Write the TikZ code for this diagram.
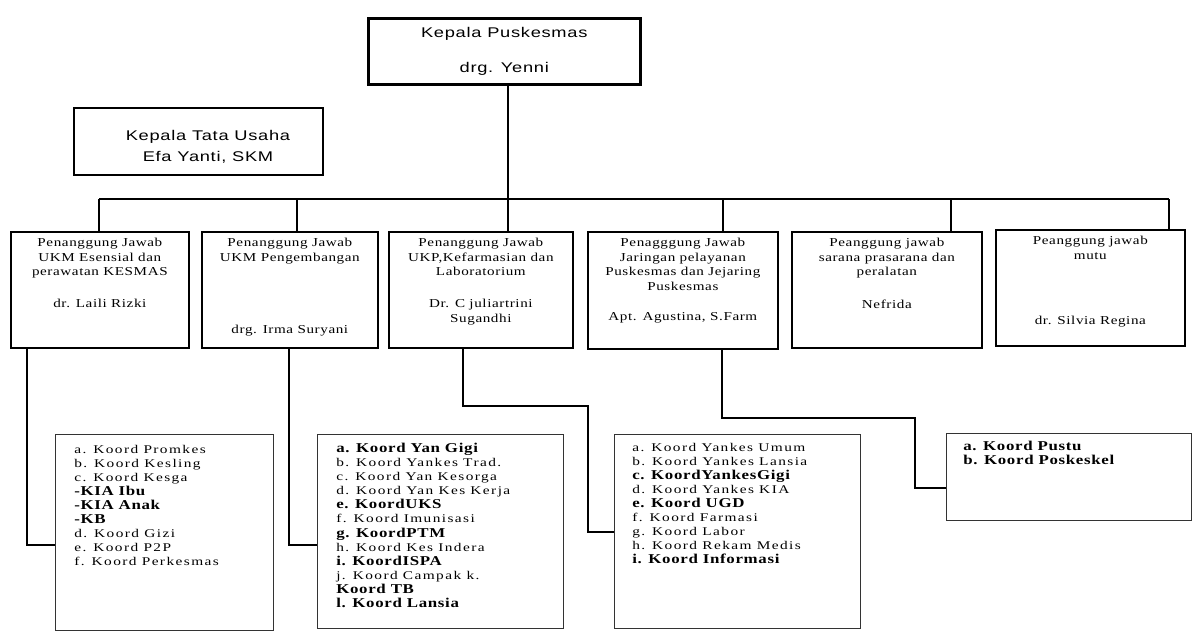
\documentclass[tikz,border=0pt]{standalone}
\usepackage{fontspec}
\setmainfont[FakeStretch=1.25,LetterSpace=5]{Liberation Serif}
\newfontfamily\sansf[FakeStretch=1.3,LetterSpace=5]{Liberation Sans}
\newfontfamily\listf[FakeStretch=1.3,LetterSpace=12]{Liberation Serif}
\newfontfamily\boldf[FakeStretch=1.25,LetterSpace=5]{Liberation Serif}
\usetikzlibrary{positioning}
\newdimen\px \px=0.025cm
\newcommand\kb[1]{{\boldf\fontsize{9.6}{10}\selectfont\bfseries #1}}
\tikzset{
  box/.style={draw, line width=1.2pt, anchor=north west, inner sep=0pt},
  headbox/.style={box, line width=1.8pt},
  listbox/.style={draw=black!80, line width=1pt, anchor=north west, inner sep=0pt},
  link/.style={draw, line width=1pt},
  head/.style={align=center, inner sep=0pt, font=\sansf\fontsize{10}{15}\selectfont},
  role/.style={anchor=north, align=center, inner sep=0pt, font=\fontsize{8.6}{10.3}\selectfont},
  items/.style={anchor=north west, align=left, inner sep=0pt, font=\listf\fontsize{8.4}{10}\selectfont},
}
\begin{document}
\begin{tikzpicture}[x=0.025cm, y=-0.025cm]
  \useasboundingbox (0,0) rectangle (1196,639);
  \fill[white] (0,0) rectangle (1196,639);

  % kepala puskesmas dan tata usaha
  \node[headbox, minimum width=272\px, minimum height=66\px, head] (kp) at (367,17)
    {Kepala Puskesmas\\[10pt]drg. Yenni};
  \node[box, minimum width=249\px, minimum height=67\px] (ktu) at (73,107) {};
  \node[head] (ktut) at (208,147) {Kepala Tata Usaha\\Efa Yanti, SKM};

  % penanggung jawab
  \node[box, minimum width=178\px, minimum height=116\px] (pj1) at (10,231) {};
  \node[box, minimum width=176\px, minimum height=116\px] (pj2) at (201,231) {};
  \node[box, minimum width=184\px, minimum height=116\px] (pj3) at (388,231) {};
  \node[box, minimum width=190\px, minimum height=117\px] (pj4) at (587,231) {};
  \node[box, minimum width=190\px, minimum height=116\px] (pj5) at (791,231) {};
  \node[box, minimum width=189\px, minimum height=116\px] (pj6) at (995,229) {};

  \node[role, below=7\px of pj1.north] (r1) {Penanggung Jawab\\UKM Esensial dan\\perawatan KESMAS};
  \node[role, below=68\px of pj1.north] (n1) {dr. Laili Rizki};
  \node[role, below=7\px of pj2.north] (r2) {Penanggung Jawab\\UKM Pengembangan};
  \node[role, below=94\px of pj2.north] (n2) {drg. Irma Suryani};
  \node[role, below=7\px of pj3.north] (r3) {Penanggung Jawab\\UKP,Kefarmasian dan\\Laboratorium};
  \node[role, below=68\px of pj3.north] (n3) {Dr. C juliartrini\\Sugandhi};
  \node[role, below=7\px of pj4.north] (r4) {Penagggung Jawab\\Jaringan pelayanan\\Puskesmas dan Jejaring\\Puskesmas};
  \node[role, below=81\px of pj4.north] (n4) {Apt. Agustina, S.Farm};
  \node[role, below=7\px of pj5.north] (r5) {Peanggung jawab\\sarana prasarana dan\\peralatan};
  \node[role, below=69\px of pj5.north] (n5) {Nefrida};
  \node[role, below=7\px of pj6.north] (r6) {Peanggung jawab\\mutu};
  \node[role, below=87\px of pj6.north] (n6) {dr. Silvia Regina};

  % koordinator
  \node[listbox, minimum width=218\px, minimum height=196\px] (lst1) at (55,434) {};
  \node[listbox, minimum width=246\px, minimum height=194\px] (lst2) at (317,434) {};
  \node[listbox, minimum width=246\px, minimum height=194\px] (lst3) at (614,434) {};
  \node[listbox, minimum width=245\px, minimum height=87\px] (lst4) at (946,433) {};

  \node[items] (k1) at (74,445) {a. Koord Promkes\\b. Koord Kesling\\c. Koord Kesga\\
    \kb{-KIA Ibu}\\\kb{-KIA Anak}\\\kb{-KB}\\d. Koord Gizi\\e. Koord P2P\\f. Koord Perkesmas};
  \node[items] (k2) at (336,443) {\kb{a. Koord Yan Gigi}\\b. Koord Yankes Trad.\\c. Koord Yan Kesorga\\
    d. Koord Yan Kes Kerja\\\kb{e. KoordUKS}\\f. Koord Imunisasi\\\kb{g. KoordPTM}\\
    h. Koord Kes Indera\\\kb{i. KoordISPA}\\j. Koord Campak k.\\\kb{Koord TB}\\\kb{l. Koord Lansia}};
  \node[items] (k3) at (632,443) {a. Koord Yankes Umum\\b. Koord Yankes Lansia\\\kb{c. KoordYankesGigi}\\
    d. Koord Yankes KIA\\\kb{e. Koord UGD}\\f. Koord Farmasi\\g. Koord Labor\\
    h. Koord Rekam Medis\\\kb{i. Koord Informasi}};
  \node[items] (k4) at (963,441) {\kb{a. Koord Pustu}\\\kb{b. Koord Poskeskel}};

  % garis
  \coordinate (t1) at (99,199);
  \coordinate (t2) at (297,199);
  \coordinate (t3) at (508,199);
  \coordinate (t4) at (723,199);
  \coordinate (t5) at (951,199);
  \coordinate (t6) at (1169,199);
  \draw[link] (t1) -- (t6);
  \draw[link] (t3 |- kp.south) -- (t3 |- pj3.north);
  \foreach \i in {1,2,4,5,6}
    \draw[link] (t\i) -- (t\i |- pj\i.north);

  \coordinate (c1) at (27,545);
  \coordinate (c2) at (289,545);
  \coordinate (c3) at (463,406);
  \coordinate (e3) at (588,532);
  \coordinate (c4) at (722,418);
  \coordinate (e4) at (915,488);
  \draw[link] (c1 |- pj1.south) |- (lst1.west |- c1);
  \draw[link] (c2 |- pj2.south) |- (lst2.west |- c2);
  \draw[link] (c3 |- pj3.south) -- (c3) -| (e3) -- (e3 -| lst3.west);
  \draw[link] (c4 |- pj4.south) -- (c4) -| (e4) -- (e4 -| lst4.west);
\end{tikzpicture}
\end{document}
